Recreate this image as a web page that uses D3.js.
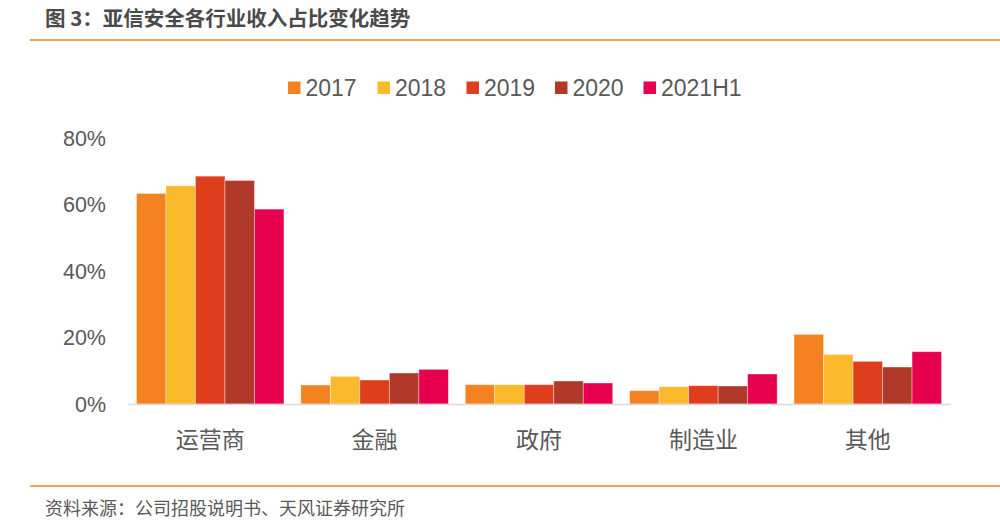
<!DOCTYPE html>
<html><head><meta charset="utf-8">
<script src="https://cdn.jsdelivr.net/npm/d3@7"></script>
<style>body{margin:0;background:#fff;}svg{display:block;}</style>
</head><body>
<svg id="c" width="1000" height="528"></svg>
<script>
const categories = ["运营商","金融","政府","制造业","其他"];
const seriesNames = ["2017","2018","2019","2020","2021H1"];
const colors = ["#F58220","#FBBA2C","#DE3E1B","#B0392A","#E6004D"];
const v2017 = [63.2, 5.7, 5.8, 4.0, 20.9];
const v2018 = [65.5, 8.3, 5.8, 5.2, 14.9];
const v2019 = [68.4, 7.2, 5.8, 5.5, 12.8];
const v2020 = [67.1, 9.3, 6.9, 5.4, 11.1];
const v2021H1 = [58.5, 10.4, 6.3, 9.0, 15.7];
const yTicks = [0,20,40,60,80];
const values = [v2017, v2018, v2019, v2020, v2021H1];

const svg = d3.select("#c");
const latin = "'Liberation Sans', Arial, sans-serif";
const cjk = "'Noto Sans CJK SC', sans-serif";
const gray = "#595959";

// title
svg.append("text").attr("x",45).attr("y",25.5).attr("font-family",cjk).attr("font-weight","bold")
  .attr("font-size",20.5).attr("fill","#4a4a4a").attr("xml:space","preserve").text("图 3：亚信安全各行业收入占比变化趋势");
svg.append("line").attr("x1",30).attr("x2",1000).attr("y1",40).attr("y2",40).attr("stroke","#F58220").attr("stroke-width",1.5);
svg.append("line").attr("x1",30).attr("x2",1000).attr("y1",486).attr("y2",486).attr("stroke","#F58220").attr("stroke-width",1.5);
svg.append("text").attr("x",45).attr("y",515).attr("font-family",cjk).attr("font-size",18)
  .attr("fill",gray).text("资料来源：公司招股说明书、天风证券研究所");

const y = d3.scaleLinear().domain([0,80]).range([404,137.5]);
const x0 = d3.scaleBand().domain(categories).range([128,950]).padding(0);
const groupW = 147.5;
const x1 = d3.scaleBand().domain(seriesNames).range([0,groupW]).padding(0);

// y axis labels
const yAxis = d3.axisLeft(y).tickValues(yTicks).tickFormat(d=>d+"%").tickSize(0).tickPadding(0);
const ga = svg.append("g").attr("transform","translate(106,0)").call(yAxis);
ga.select(".domain").remove();
ga.selectAll("text").attr("font-family",latin).attr("font-size",21.5).attr("fill",gray).attr("dy","0.35em");

// bars
categories.forEach((c,ci)=>{
  const gx = x0(c) + (x0.bandwidth()-groupW)/2;
  seriesNames.forEach((s,si)=>{
    const v = values[si][ci];
    svg.append("rect").attr("x",gx + x1(s)).attr("y",y(v)).attr("width",x1.bandwidth())
      .attr("height",y(0)-y(v)).attr("fill",colors[si])
      .attr("stroke","#fff").attr("stroke-opacity",0.45).attr("stroke-width",0.8);
  });
});

// x axis
const xAxis = d3.axisBottom(x0).tickSize(0).tickPadding(0);
const gx = svg.append("g").attr("transform",`translate(0,${y(0)})`).call(xAxis);
gx.select(".domain").attr("stroke","#d9d9d9").attr("stroke-width",1.5);
gx.selectAll("text").attr("font-family",cjk).attr("font-size",23).attr("fill",gray).attr("dy","0").attr("y",44);

// legend
const legX = [288, 377.5, 466.5, 555, 643.5];
seriesNames.forEach((s,i)=>{
  svg.append("rect").attr("x",legX[i]).attr("y",81.5).attr("width",12.5).attr("height",12.5).attr("fill",colors[i]);
  svg.append("text").attr("x",legX[i]+17.5).attr("y",96).attr("font-family",latin).attr("font-size",23)
    .attr("fill",gray).text(s);
});
</script>
</body></html>
